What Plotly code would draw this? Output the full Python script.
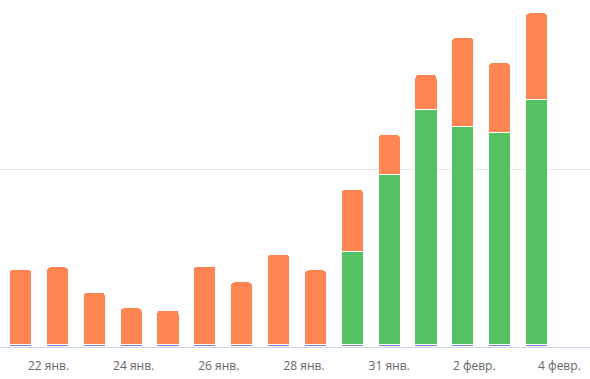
import numpy as np
import plotly.graph_objects as go

dates = ["21 янв.", "22 янв.", "23 янв.", "24 янв.", "25 янв.", "26 янв.", "27 янв.",
         "28 янв.", "29 янв.", "30 янв.", "31 янв.", "1 февр.", "2 февр.", "3 февр.", "4 февр."]
purple_vals = [1, 1, 1, 1, 1, 1, 1, 1, 1, 1, 1, 1, 1, 1, 1]
green_vals = [0, 0, 0, 0, 0, 0, 0, 0, 0, 52.8, 96.2, 133.1, 123.3, 119.9, 138.8]
orange_vals = [42.6, 43.9, 29.6, 20.7, 19.4, 44.4, 35.4, 51.1, 42.2, 35.1, 22.8, 19.8, 50.6, 39.8, 49.2]
tick_labels = ["22 янв.", "24 янв.", "26 янв.", "28 янв.", "31 янв.", "2 февр.", "4 февр."]

x = list(range(len(dates)))
bar_w = 0.6

fig = go.Figure()
for vals, color, name in [(purple_vals, "#7b7fe3", "a"), (green_vals, "#54c262", "b"), (orange_vals, "#ff8553", "c")]:
    fig.add_trace(go.Bar(
        x=x, y=vals, name=name, width=bar_w,
        marker=dict(color=color, line=dict(color="#ffffff", width=1)),
        hoverinfo="skip",
    ))

tick_pos = np.linspace(0.76, 14.62, len(tick_labels))

fig.update_layout(
    barmode="stack",
    barcornerradius=4,
    width=590, height=379,
    margin=dict(l=0, r=0, t=0, b=32),
    paper_bgcolor="#ffffff", plot_bgcolor="#ffffff",
    showlegend=False,
    font=dict(family="Open Sans", size=12, color="#666666"),
    xaxis=dict(
        range=[-0.556, 15.45],
        tickmode="array", tickvals=tick_pos, ticktext=tick_labels,
        showgrid=False, zeroline=False,
        showline=True, linecolor="#ccd6eb", linewidth=1,
        ticks="", ticklabelstandoff=8,
        tickfont=dict(family="Open Sans", size=12, color="#666666"),
    ),
    yaxis=dict(
        range=[-0.5, 196.3],
        tickmode="array", tickvals=[100], showticklabels=False,
        showgrid=True, gridcolor="#e6e6e6", gridwidth=1,
        zeroline=False, showline=False,
    ),
)

fig.write_html("out.html", config={"displayModeBar": False},
               post_script="document.body.style.margin='0';")
